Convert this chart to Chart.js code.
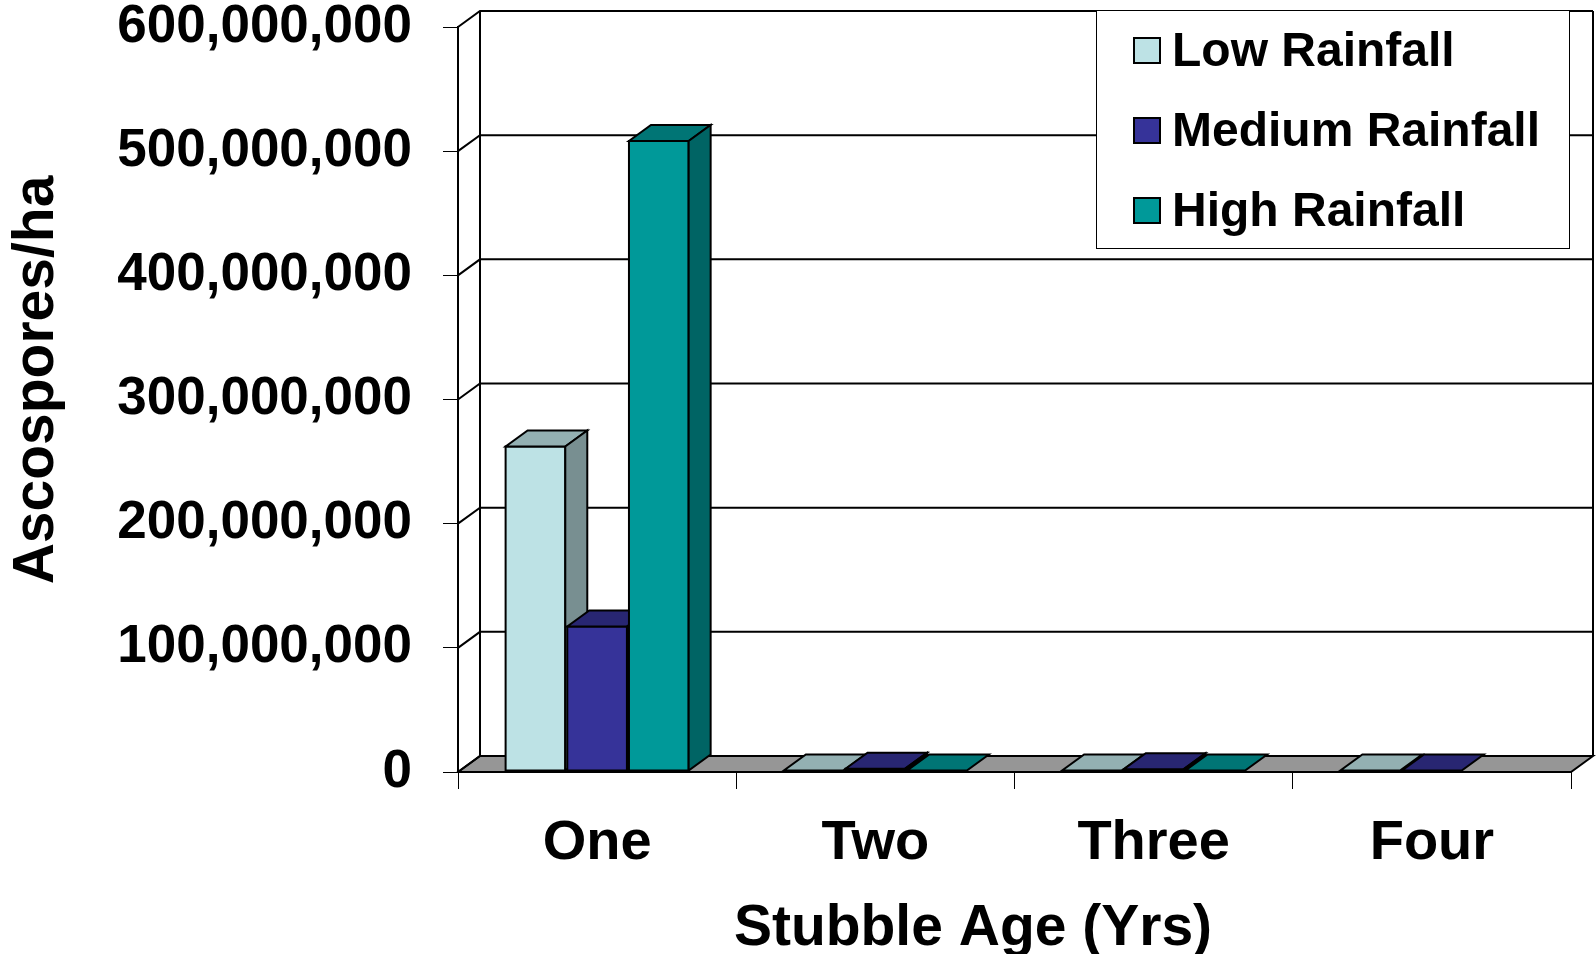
<!DOCTYPE html>
<html>
<head>
<meta charset="utf-8">
<script src="https://cdn.jsdelivr.net/npm/chart.js@4.4.1/dist/chart.umd.min.js"></script>
<style>
  html, body { margin: 0; padding: 0; background: #ffffff; }
  canvas { display: block; }
</style>
</head>
<body>
<canvas id="chart" width="1596" height="954"></canvas>
<script>
// ---- data ----
const categories = ['One', 'Two', 'Three', 'Four'];
const seriesNames = ['Low Rainfall', 'Medium Rainfall', 'High Rainfall'];
const lowRainfall = [263000000, 2000000, 1500000, 200000];
const mediumRainfall = [118000000, 3500000, 3000000, 200000];
const highRainfall = [509000000, 1500000, 800000, null];
const yTickValues = [0, 100000000, 200000000, 300000000, 400000000, 500000000, 600000000];
const xTitle = 'Stubble Age (Yrs)';
const yTitle = 'Ascospores/ha';

// ---- styling ----
const FONT = '"Liberation Sans", Arial, Helvetica, sans-serif';
const frontColors = ['#bde2e5', '#363399', '#009999'];
const topColors = ['#93b0b2', '#282672', '#007575'];
const sideColors = ['#788f91', '#222060', '#006464'];
const FLOOR = '#969696';
const DX = 22;   // horizontal depth offset of the 3-D box
const DY = 16;   // vertical depth offset of the 3-D box

const seriesValues = [lowRainfall, mediumRainfall, highRainfall];

function poly(ctx, pts, fill) {
  ctx.fillStyle = fill;
  ctx.beginPath();
  ctx.moveTo(pts[0][0], pts[0][1]);
  for (let k = 1; k < pts.length; k++) ctx.lineTo(pts[k][0], pts[k][1]);
  ctx.closePath();
  ctx.fill();
  ctx.stroke();
}

// walls, floor, 3-D columns, axis titles and legend
const box3d = {
  id: 'box3d',
  beforeDraw(chart) {
    const { ctx, chartArea: a, scales: { y } } = chart;
    ctx.save();
    ctx.lineWidth = 2;
    ctx.strokeStyle = '#000';
    ctx.lineJoin = 'miter';
    // floor
    poly(ctx, [[a.left, a.bottom], [a.right, a.bottom], [a.right + DX, a.bottom - DY], [a.left + DX, a.bottom - DY]], FLOOR);
    // gridlines running along the side wall and across the back wall
    yTickValues.forEach(v => {
      const py = y.getPixelForValue(v);
      ctx.beginPath();
      ctx.moveTo(a.left, py);
      ctx.lineTo(a.left + DX, py - DY);
      ctx.lineTo(a.right + DX, py - DY);
      ctx.stroke();
    });
    // back wall edges
    ctx.beginPath();
    ctx.moveTo(a.left + DX, a.top - DY);
    ctx.lineTo(a.left + DX, a.bottom - DY);
    ctx.moveTo(a.right + DX, a.top - DY);
    ctx.lineTo(a.right + DX, a.bottom - DY);
    ctx.stroke();
    ctx.restore();
  },
  afterDatasetsDraw(chart) {
    const ctx = chart.ctx;
    ctx.save();
    ctx.lineWidth = 2;
    ctx.strokeStyle = '#000';
    ctx.lineJoin = 'miter';
    const n = chart.data.labels.length;
    // left-to-right so that each column hides the depth face of its neighbour
    for (let j = 0; j < n; j++) {
      chart.data.datasets.forEach((ds, i) => {
        if (ds.data[j] == null) return;
        const bar = chart.getDatasetMeta(i).data[j];
        const p = bar.getProps(['x', 'y', 'base', 'width'], true);
        const xl = p.x - p.width / 2 + 1;
        const xr = p.x + p.width / 2 - 1;
        const yb = p.base - 1;
        const yt = Math.min(p.y + 1, yb);
        // front face
        if (yb - yt > 0.5) poly(ctx, [[xl, yt], [xr, yt], [xr, yb], [xl, yb]], frontColors[i]);
        // top face
        poly(ctx, [[xl, yt], [xr, yt], [xr + DX, yt - DY], [xl + DX, yt - DY]], topColors[i]);
        // side face
        if (yb - yt > 0.5) poly(ctx, [[xr, yt], [xr + DX, yt - DY], [xr + DX, yb - DY], [xr, yb]], sideColors[i]);
      });
    }
    ctx.restore();
  },
  afterDraw(chart) {
    const ctx = chart.ctx;
    ctx.save();
    ctx.fillStyle = '#000';
    ctx.textAlign = 'center';
    ctx.textBaseline = 'middle';
    ctx.font = 'bold 57px ' + FONT;
    // axis titles
    ctx.fillText(xTitle, 973, 929);
    ctx.save();
    ctx.translate(37, 380);
    ctx.rotate(-Math.PI / 2);
    ctx.fillText(yTitle, 0, 0);
    ctx.restore();

    // legend
    const lx = 1096, ly = 10, lw = 473, lh = 238;
    ctx.fillStyle = '#fff';
    ctx.fillRect(lx, ly, lw, lh);
    ctx.lineWidth = 1;
    ctx.strokeStyle = '#000';
    ctx.strokeRect(lx + 0.5, ly + 0.5, lw, lh);
    ctx.textAlign = 'left';
    ctx.font = 'bold 48px ' + FONT;
    chart.data.datasets.forEach((ds, i) => {
      const cy = 50 + i * 80;
      ctx.fillStyle = frontColors[i];
      ctx.fillRect(1134, cy - 12, 26, 25);
      ctx.lineWidth = 2;
      ctx.strokeRect(1134, cy - 12, 26, 25);
      ctx.fillStyle = '#000';
      ctx.fillText(ds.label, 1172, cy + 3);
    });
    ctx.restore();
  }
};

const chart = new Chart(document.getElementById('chart'), {
  type: 'bar',
  data: {
    labels: categories,
    datasets: seriesNames.map((name, i) => ({
      label: name,
      data: seriesValues[i],
      // columns are painted by the box3d plugin from these elements
      backgroundColor: 'rgba(0,0,0,0)',
      borderWidth: 0,
      categoryPercentage: 0.665,
      barPercentage: 1.0
    }))
  },
  options: {
    responsive: false,
    animation: false,
    layout: { padding: { top: 27, right: 25, left: 0, bottom: 0 } },
    plugins: {
      legend: { display: false },
      tooltip: { enabled: false }
    },
    scales: {
      x: {
        afterFit: s => { s.height = 182; s.paddingLeft = 0; s.paddingRight = 0; },
        grid: {
          offset: true,
          drawOnChartArea: false,
          drawTicks: true,
          tickLength: 17,
          color: '#000',
          lineWidth: 1
        },
        border: { display: true, color: '#000', width: 2 },
        ticks: {
          color: '#000',
          padding: 21,
          font: { family: FONT, size: 56, weight: 'bold' }
        }
      },
      y: {
        min: 0,
        max: 600000000,
        afterFit: s => { s.width = 458; s.paddingTop = 0; s.paddingBottom = 0; },
        afterBuildTicks: s => { s.ticks = yTickValues.map(v => ({ value: v })); },
        grid: {
          drawOnChartArea: false,
          drawTicks: true,
          tickLength: 15,
          color: '#000',
          lineWidth: 1
        },
        border: { display: true, color: '#000', width: 2 },
        ticks: {
          color: '#000',
          padding: 31,
          font: { family: FONT, size: 53, weight: 'bold' },
          callback: v => Number(v).toLocaleString('en-US')
        }
      }
    }
  },
  plugins: [box3d]
});
</script>
</body>
</html>
